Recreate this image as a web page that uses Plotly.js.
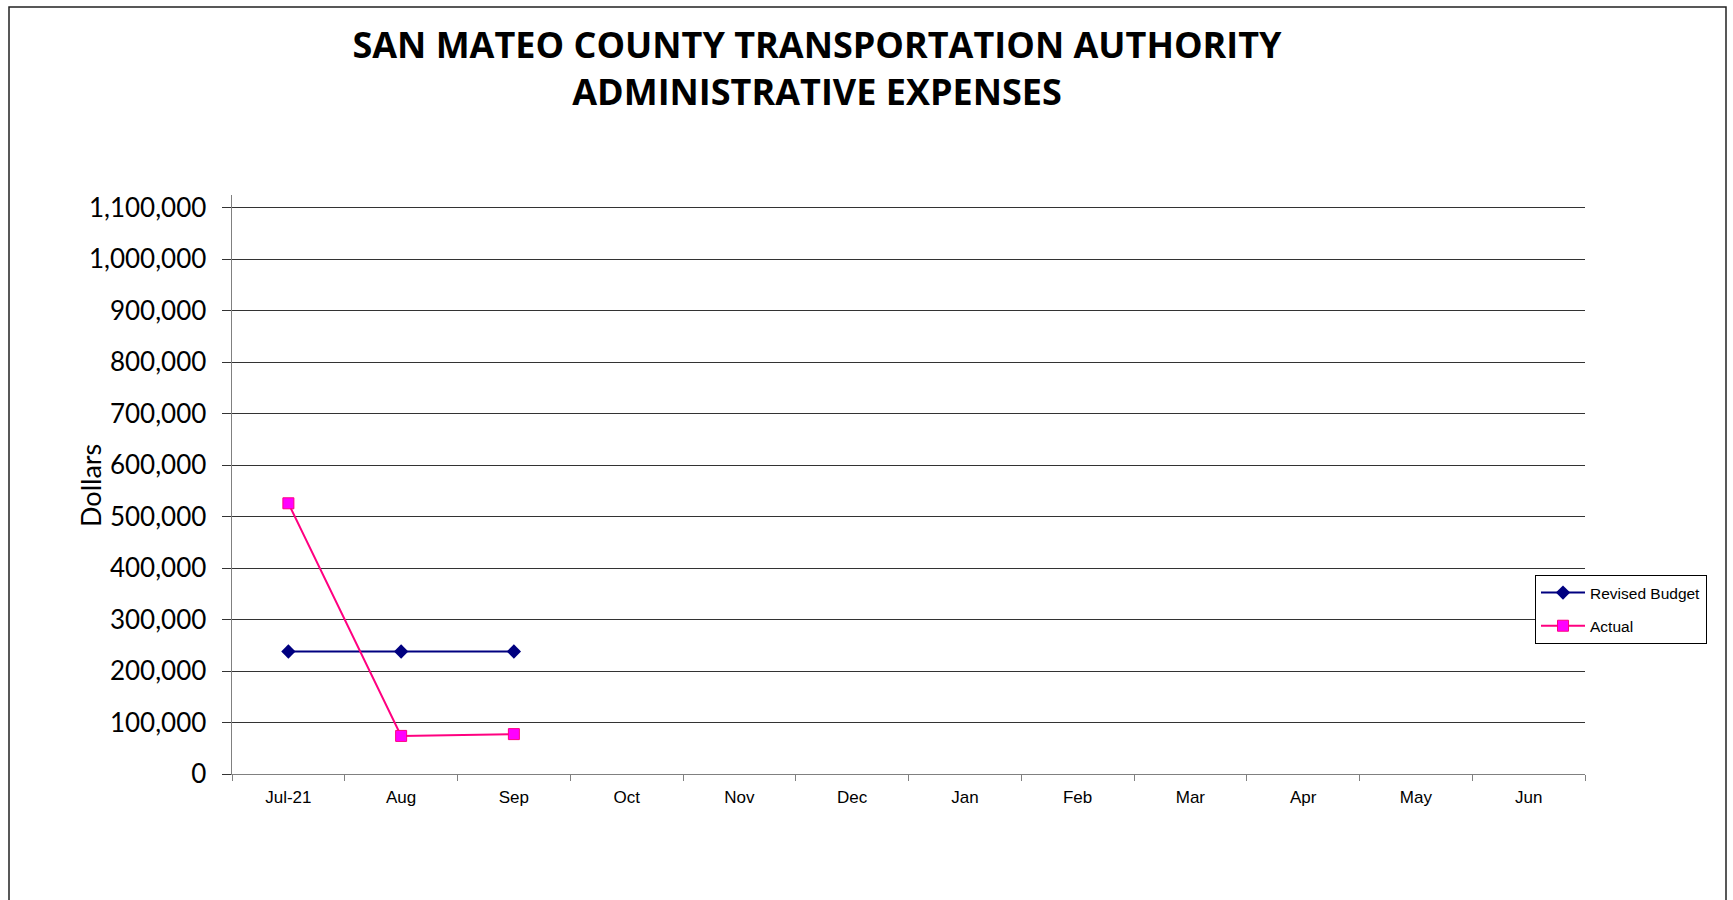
<!DOCTYPE html>
<html>
<head>
<meta charset="utf-8">
<script src="https://cdn.plot.ly/plotly-3.0.1.min.js"></script>
<style>html,body{margin:0;padding:0;background:#fff;}#chart{width:1733px;height:900px;}</style>
</head>
<body>
<div id="chart"></div>
<script>
const months = ['Jul-21','Aug','Sep','Oct','Nov','Dec','Jan','Feb','Mar','Apr','May','Jun'];
const revisedBudget = [238000, 238000, 238000, null, null, null, null, null, null, null, null, null];
const actual = [526000, 74000, 77500, null, null, null, null, null, null, null, null, null];
const yTickVals = [0,100000,200000,300000,400000,500000,600000,700000,800000,900000,1000000,1100000];

const traces = [
  {
    x: months, y: revisedBudget, name: 'Revised Budget', type: 'scatter', mode: 'lines+markers',
    legendgroup: 'g1',
    line: {color: '#000080', width: 2},
    marker: {symbol: 'diamond', size: 11, color: '#000080'},
    connectgaps: false
  },
  {
    x: months, y: actual, name: 'Actual', type: 'scatter', mode: 'lines+markers',
    legendgroup: 'g2',
    line: {color: '#FF0080', width: 2},
    marker: {symbol: 'square', size: 11, color: '#FF00FF', line: {color: '#FF0080', width: 1}},
    connectgaps: false
  }
];

const L = 232, R = 1585, T = 195, B = 774;
const pw = R - L, ph = B - T;
function px(x){ return (x - L) / pw; }
function py(y){ return (B - y) / ph; }

const layout = {
  width: 1733, height: 900,
  paper_bgcolor: '#fff', plot_bgcolor: '#fff',
  margin: {l: L, r: 1733 - R, t: T, b: 900 - B, autoexpand: false},
  title: {
    text: '<b>SAN MATEO COUNTY TRANSPORTATION AUTHORITY<br>ADMINISTRATIVE EXPENSES</b>',
    font: {family: 'Open Sans, DejaVu Sans, sans-serif', size: 36, color: '#000'},
    x: 817 / 1733, xanchor: 'center', xref: 'container',
    y: 1 - 58 / 900, yanchor: 'top', yref: 'container'
  },
  showlegend: true,
  legend: {
    x: px(1535), y: py(575), xanchor: 'left', yanchor: 'top',
    bgcolor: '#fff', bordercolor: '#000', borderwidth: 1,
    tracegroupgap: 10, itemwidth: 44,
    font: {family: 'Liberation Sans, Arial, sans-serif', size: 15.5, color: '#000'}
  },
  xaxis: {
    type: 'category', categoryorder: 'array', categoryarray: months,
    tickmode: 'array', tickvals: months, ticktext: months,
    range: [-0.5, 11.5],
    tickson: 'boundaries', ticks: 'outside', ticklen: 6, tickcolor: '#808080', tickwidth: 1,
    showline: true, linecolor: '#808080', linewidth: 1,
    showgrid: false, zeroline: false,
    tickfont: {family: 'Liberation Sans, Arial, sans-serif', size: 17, color: '#000'},
    ticklabelstandoff: 8,
    fixedrange: true
  },
  yaxis: {
    range: [0, 1125000],
    tickmode: 'array', tickvals: yTickVals,
    tickformat: ',d',
    ticks: 'outside', ticklen: 9, tickcolor: '#333', tickwidth: 1,
    showline: true, linecolor: '#808080', linewidth: 1.5,
    showgrid: true, gridcolor: '#333', gridwidth: 1,
    zeroline: false,
    tickfont: {family: 'Lato, Noto Sans, sans-serif', size: 26, color: '#000'},
    ticklabelstandoff: 10,
    fixedrange: true
  },
  annotations: [
    {text: 'Dollars', xref: 'paper', yref: 'paper', x: px(90), y: py(486),
     xanchor: 'center', yanchor: 'middle', textangle: -90, showarrow: false,
     font: {family: 'Lato, Noto Sans, sans-serif', size: 27, color: '#000'}}
  ],
  shapes: [
    {type: 'rect', xref: 'paper', yref: 'paper', x0: px(9), x1: px(1726), y0: py(7), y1: py(910),
     line: {color: '#222', width: 1.5}, fillcolor: 'rgba(0,0,0,0)', layer: 'below'}
  ]
};

Plotly.newPlot('chart', traces, layout, {displayModeBar: false, staticPlot: true});
</script>
</body>
</html>
